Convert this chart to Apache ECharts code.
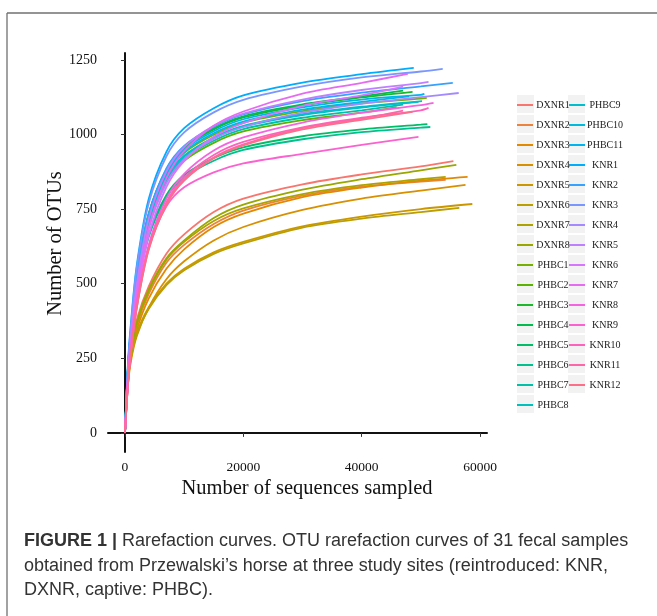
<!DOCTYPE html>
<html>
<head>
<meta charset="utf-8">
<script src="https://cdn.jsdelivr.net/npm/echarts@6/dist/echarts.min.js"></script>
<style>
  html, body { margin: 0; padding: 0; background: #fff; }
  #chart { width: 657px; height: 616px; }
</style>
</head>
<body>
<div id="chart"></div>
<script>
const depths = [0, 500, 1000, 2000, 4000, 7000, 10000, 15000, 20000, 30000, 40000, 50000];

const dxnrNames = ['DXNR1', 'DXNR2', 'DXNR3', 'DXNR4', 'DXNR5', 'DXNR6', 'DXNR7', 'DXNR8'];
const dxnrColors = ['#F8766D', '#ED813E', '#E38900', '#D89000', '#CA9700', '#BB9E00', '#ACA300', '#99A800'];
const dxnrEndDepth = [55500, 54200, 57900, 57550, 58700, 56500, 54200, 56000];
const dxnrEndOtus = [911, 848, 858, 831, 767, 754, 858, 898];
const dxnrOtus = [
  [0, 180, 275, 380, 490, 600, 665, 740, 785, 833, 866, 893],
  [0, 170, 258, 360, 465, 570, 630, 700, 745, 795, 825, 842],
  [0, 165, 250, 345, 450, 550, 615, 690, 735, 790, 822, 845],
  [0, 160, 240, 325, 420, 515, 575, 645, 690, 747, 785, 812],
  [0, 178, 255, 335, 420, 500, 550, 605, 640, 692, 725, 750],
  [0, 175, 250, 330, 415, 495, 545, 600, 635, 688, 718, 740],
  [0, 175, 265, 368, 475, 580, 640, 710, 752, 800, 830, 850],
  [0, 175, 265, 370, 480, 585, 645, 720, 765, 815, 850, 880]
];

const phbcNames = ['PHBC1', 'PHBC2', 'PHBC3', 'PHBC4', 'PHBC5', 'PHBC6', 'PHBC7', 'PHBC8', 'PHBC9', 'PHBC10', 'PHBC11'];
const phbcColors = ['#75AF00', '#5BB300', '#1AB82A', '#00BC4E', '#00BE67', '#00C08D', '#00C1A7', '#00C0BB', '#00BECD', '#00BADE', '#00B4EF'];
const phbcEndDepth = [51000, 45900, 48600, 47000, 51100, 51600, 47000, 50200, 49600, 48000, 50600];
const phbcEndOtus = [1123, 1092, 1143, 1147, 1035, 1025, 1100, 1112, 1109, 1128, 1136];
const phbcOtus = [
  [0, 213, 337, 517, 719, 865, 938, 999, 1039, 1078, 1104, 1120],
  [0, 207, 328, 502, 699, 841, 912, 972, 1010, 1048, 1073],
  [0, 217, 343, 526, 732, 880, 954, 1017, 1057, 1097, 1124],
  [0, 218, 344, 528, 734, 883, 958, 1021, 1061, 1101, 1128],
  [0, 197, 311, 476, 662, 797, 864, 921, 957, 994, 1017, 1033],
  [0, 195, 308, 472, 656, 789, 856, 912, 948, 984, 1008, 1023],
  [0, 209, 330, 506, 704, 847, 919, 979, 1018, 1056, 1081],
  [0, 211, 334, 512, 712, 856, 929, 990, 1029, 1068, 1093],
  [0, 211, 333, 510, 710, 854, 926, 987, 1026, 1065, 1090],
  [0, 214, 338, 519, 722, 869, 942, 1004, 1043, 1083, 1109],
  [0, 216, 341, 523, 727, 875, 949, 1011, 1051, 1091, 1117, 1133]
];

const knrNames = ['KNR1', 'KNR2', 'KNR3', 'KNR4', 'KNR5', 'KNR6', 'KNR7', 'KNR8', 'KNR9', 'KNR10', 'KNR11', 'KNR12'];
const knrColors = ['#00ACFC', '#35A2FF', '#7997FF', '#A58AFF', '#BF80FF', '#D675FE', '#E56CF2', '#F663E0', '#FC61D0', '#FF62BC', '#FF66A6', '#FD6E89'];
const knrEndDepth = [48800, 55400, 53700, 56400, 51300, 47000, 47800, 52150, 49600, 51300, 47000, 48600];
const knrEndOtus = [1223, 1173, 1220, 1139, 1176, 1160, 1203, 1106, 992, 1089, 1080, 1076];
const knrOtus = [
  [0, 232, 367, 563, 783, 942, 1021, 1088, 1131, 1174, 1202],
  [0, 217, 340, 528, 733, 886, 962, 1026, 1067, 1112, 1140, 1161],
  [0, 226, 360, 555, 769, 927, 1007, 1074, 1116, 1161, 1191, 1211],
  [0, 194, 308, 478, 683, 837, 917, 985, 1025, 1073, 1103, 1125],
  [0, 200, 323, 500, 717, 876, 958, 1029, 1070, 1117, 1149, 1172],
  [0, 174, 290, 452, 661, 824, 911, 992, 1038, 1096, 1131],
  [0, 180, 301, 469, 686, 854, 944, 1029, 1077, 1137, 1173],
  [0, 166, 277, 431, 630, 785, 868, 946, 990, 1040, 1073, 1098],
  [0, 178, 288, 441, 620, 759, 823, 873, 903, 935, 965],
  [0, 163, 272, 425, 621, 773, 855, 931, 975, 1024, 1056, 1081],
  [0, 162, 270, 421, 616, 767, 848, 923, 967, 1021, 1053],
  [0, 161, 269, 420, 613, 764, 845, 920, 963, 1017, 1049]
];

const xTicks = [0, 20000, 40000, 60000];
const yTicks = [0, 250, 500, 750, 1000, 1250];

const serif = 'Liberation Serif';

function makeSeries(names, colors, otus, endDepth, endOtus) {
  return names.map((name, i) => ({
    name: name,
    type: 'line',
    symbol: 'none',
    smooth: 0.3,
    lineStyle: { width: 1.8, color: colors[i] },
    itemStyle: { color: colors[i] },
    data: otus[i].map((v, j) => [depths[j], v]).concat([[endDepth[i], endOtus[i]]])
  }));
}

const series = []
  .concat(makeSeries(dxnrNames, dxnrColors, dxnrOtus, dxnrEndDepth, dxnrEndOtus))
  .concat(makeSeries(phbcNames, phbcColors, phbcOtus, phbcEndDepth, phbcEndOtus))
  .concat(makeSeries(knrNames, knrColors, knrOtus, knrEndDepth, knrEndOtus));

const allNames = dxnrNames.concat(phbcNames, knrNames);
const leftCol = allNames.slice(0, 16);
const rightCol = allNames.slice(16);

// gray key backgrounds like ggplot legend keys
const legendTop = 100, firstRowY = 104, rowStep = 20, colX = [517, 568];
const keyBoxes = [];
[leftCol, rightCol].forEach((col, c) => {
  col.forEach((n, i) => {
    keyBoxes.push({
      type: 'rect', z: 0,
      shape: { x: colX[c], y: firstRowY + i * rowStep - 9, width: 17, height: 18 },
      style: { fill: '#F2F2F2' }
    });
  });
});

const legendBase = {
  orient: 'vertical',
  top: legendTop,
  padding: 0,
  icon: 'rect',
  itemWidth: 16,
  itemHeight: 2,
  itemGap: 10,
  z: 5,
  formatter: '{c|{name}}',
  textStyle: {
    rich: { c: { width: 30, align: 'center', fontFamily: serif, fontSize: 10, color: '#222' } }
  }
};

const chart = echarts.init(document.getElementById('chart'));
chart.setOption({
  backgroundColor: '#fff',
  animation: false,
  grid: { left: 108, right: 170, top: 53, bottom: 164 },
  xAxis: {
    type: 'value',
    min: -2870,
    max: 61180,
    name: 'Number of sequences sampled',
    nameLocation: 'middle',
    nameMoveOverlap: false,
    nameGap: 26,
    nameTextStyle: { fontFamily: serif, fontSize: 20.5, color: '#111', padding: [0, 0, 0, 19] },
    axisLine: { show: true, lineStyle: { color: '#111', width: 2 } },
    axisTick: { show: true, customValues: xTicks, length: 4, lineStyle: { color: '#333', width: 1 } },
    axisLabel: { customValues: xTicks, formatter: v => String(v), fontFamily: serif, fontSize: 13.5, color: '#111', margin: 8 },
    splitLine: { show: false }
  },
  yAxis: {
    type: 'value',
    min: -64,
    max: 1273,
    name: 'Number of OTUs',
    nameLocation: 'middle',
    nameMoveOverlap: false,
    nameGap: 42,
    nameTextStyle: { fontFamily: serif, fontSize: 20.5, color: '#111', padding: [0, 0, 0, 18] },
    axisLine: { show: true, lineStyle: { color: '#111', width: 2 } },
    axisTick: { show: true, customValues: yTicks, length: 4, lineStyle: { color: '#333', width: 1 } },
    axisLabel: { customValues: yTicks, formatter: v => String(v), fontFamily: serif, fontSize: 14, color: '#111', margin: 11 },
    splitLine: { show: false }
  },
  legend: [
    Object.assign({}, legendBase, { left: colX[0], data: leftCol }),
    Object.assign({}, legendBase, { left: colX[1] + 1, data: rightCol })
  ],
  graphic: keyBoxes.concat([
    { type: 'line', shape: { x1: 7, y1: 13, x2: 657, y2: 13 }, style: { stroke: '#707070', lineWidth: 1.3 } },
    { type: 'line', shape: { x1: 7, y1: 13, x2: 7, y2: 616 }, style: { stroke: '#707070', lineWidth: 1.3 } },
    {
      type: 'text', left: 24, top: 532,
      style: {
        text: '{b|FIGURE 1 |} Rarefaction curves. OTU rarefaction curves of 31 fecal samples',
        font: '18px "Liberation Sans"', fill: '#333',
        rich: { b: { fontWeight: 'bold', fontFamily: 'Liberation Sans', fontSize: 18, fill: '#333' } }
      }
    },
    {
      type: 'text', left: 24, top: 557,
      style: { text: 'obtained from Przewalski\u2019s horse at three study sites (reintroduced: KNR,', font: '18px "Liberation Sans"', fill: '#333' }
    },
    {
      type: 'text', left: 24, top: 581,
      style: { text: 'DXNR, captive: PHBC).', font: '18px "Liberation Sans"', fill: '#333' }
    }
  ]),
  series: series
});
</script>
</body>
</html>
